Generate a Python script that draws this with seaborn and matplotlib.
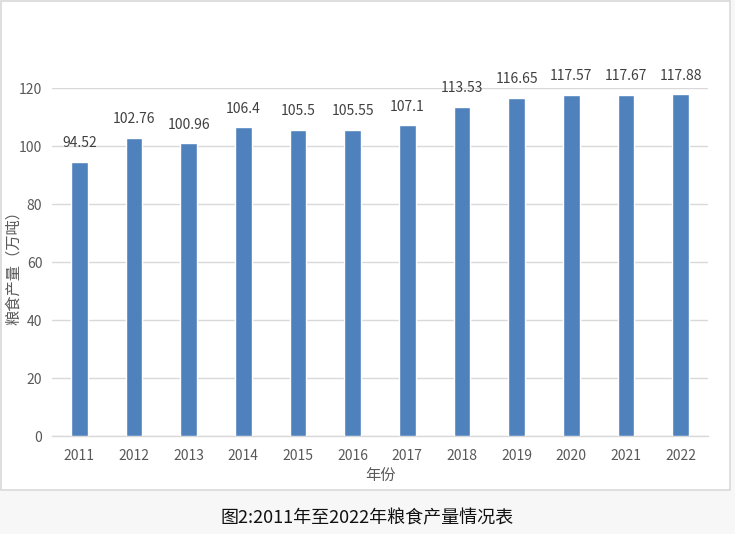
import matplotlib.pyplot as plt
import seaborn as sns
import pandas as pd
from matplotlib.patches import Rectangle

years = ["2011", "2012", "2013", "2014", "2015", "2016",
         "2017", "2018", "2019", "2020", "2021", "2022"]
output = [94.52, 102.76, 100.96, 106.4, 105.5, 105.55,
          107.1, 113.53, 116.65, 117.57, 117.67, 117.88]
value_labels = ["94.52", "102.76", "100.96", "106.4", "105.5", "105.55",
                "107.1", "113.53", "116.65", "117.57", "117.67", "117.88"]
y_ticks = [0, 20, 40, 60, 80, 100, 120]

sns.set_theme(style="white")
plt.rcParams['font.family'] = ['Noto Sans CJK SC', 'DejaVu Sans']

df = pd.DataFrame({"year": years, "output": output})

W, H = 735, 534
fig = plt.figure(figsize=(W / 100, H / 100), dpi=100)
fig.patch.set_facecolor("#f7f7f7")

# white chart frame behind the plot
bg = fig.add_axes([0, 0, 1, 1], zorder=-1)
bg.set_xlim(0, W)
bg.set_ylim(H, 0)
bg.axis("off")
bg.add_patch(Rectangle((0.5, 1), 730, 489, facecolor="white",
                       edgecolor="#d9d9d9", linewidth=1.2))

ax = fig.add_axes([52 / W, 98 / H, 656 / W, 348 / H])
ax.set_facecolor("none")
sns.barplot(data=df, x="year", y="output", color="#4f81bd", saturation=1,
            width=0.3, ax=ax, zorder=3)

ax.set_ylim(0, 120)
ax.set_yticks(y_ticks)
ax.yaxis.grid(True, color="#d9d9d9", linewidth=1)
ax.set_axisbelow(True)
for s in ["top", "right", "left"]:
    ax.spines[s].set_visible(False)
ax.spines["bottom"].set_color("#d9d9d9")
ax.spines["bottom"].set_linewidth(1)
ax.tick_params(axis="x", length=0, labelsize=10, colors="#595959", pad=9)
ax.tick_params(axis="y", length=0, labelsize=10, colors="#595959", pad=7)

# value labels above bars
for i, (v, lab) in enumerate(zip(output, value_labels)):
    ax.text(i, v + 4, lab, ha="center", va="bottom", fontsize=10,
            color="#404040", clip_on=False)

ax.set_xlabel("年份", fontsize=11, color="#595959")
ax.xaxis.set_label_coords(0.5, -39 / 348, transform=ax.transAxes)
ax.set_ylabel("粮食产量（万吨）", fontsize=11, color="#595959")
ax.yaxis.set_label_coords(-39 / 656, 172 / 348, transform=ax.transAxes)
ax.yaxis.label.set_va("center")
ax.xaxis.label.set_va("center")

fig.text(367 / W, 1 - 518 / H, "图2:2011年至2022年粮食产量情况表",
         ha="center", va="center", fontsize=13, color="#111111")

fig.savefig("out.png", dpi=100, facecolor=fig.get_facecolor())
